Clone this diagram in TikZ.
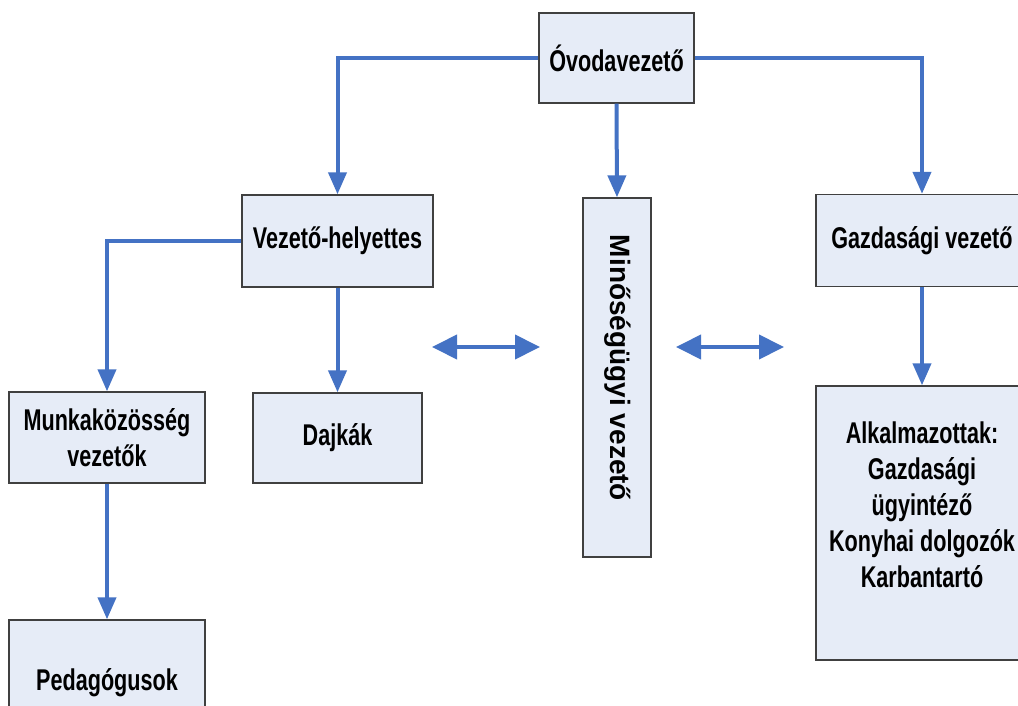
\documentclass[tikz,border=0pt]{standalone}
\usepackage{fontspec}
\newfontfamily\boxfont{Liberation Sans}[FakeStretch=0.72]
\newfontfamily\plainfont{Liberation Sans}
\usetikzlibrary{arrows.meta}
\definecolor{boxfill}{HTML}{E6ECF7}
\definecolor{boxline}{HTML}{404040}
\definecolor{conn}{HTML}{4472C4}
\tikzset{
  orgbox/.style={draw=boxline, line width=1.4pt, fill=boxfill, inner sep=0pt,
    font=\boxfont\bfseries\fontsize{30}{36}\selectfont, align=center},
  lbl/.style={inner sep=0pt, font=\boxfont\bfseries\fontsize{30}{36}\selectfont, align=center},
  vlbl/.style={inner sep=0pt, rotate=-90, font=\plainfont\bfseries\fontsize{28}{34}\selectfont},
  link/.style={draw=conn, line width=4pt, -{Triangle[width=18pt,length=22pt]}},
  both/.style={draw=conn, line width=4pt, {Triangle[width=24pt,length=25pt]}-{Triangle[width=24pt,length=25pt]}}
}
\begin{document}
\begin{tikzpicture}[x=1pt,y=-1pt]
\useasboundingbox (0,0) rectangle (1018,706);
\clip (0,0) rectangle (1018,706);
\fill[white] (0,0) rectangle (1018,706);
% boxes
\node[orgbox, minimum width=155pt, minimum height=90pt] (ovoda) at (616.5,58) {Óvodavezető};
\node[orgbox, minimum width=191pt, minimum height=92pt] (helyettes) at (337.5,241) {Vezető-helyettes};
\node[orgbox, minimum width=212pt, minimum height=92pt] (gazd) at (922,240.5) {Gazdasági vezető};
\node[orgbox, rotate=-90, minimum width=359pt, minimum height=68pt] (mino) at (617,377.5) {};
\node[vlbl] (minotext) at (618,368) {Minőségügyi vezető};
\node[orgbox, minimum width=196pt, minimum height=91pt] (munka) at (107,437.5) {Munkaközösség\\vezetők};
\node[orgbox, minimum width=169pt, minimum height=90pt] (dajka) at (337.5,438) {Dajkák};
\node[orgbox, minimum width=196pt, minimum height=126pt] (peda) at (107,683) {Pedagógusok};
\node[orgbox, minimum width=212pt, minimum height=274pt] (alk) at (922,523) {};
\node[lbl] (alktext) at (922,505) {Alkalmazottak:\\Gazdasági\\ügyintéző\\Konyhai dolgozók\\Karbantartó};
% connectors
\draw[link] (ovoda.west) -| (helyettes.north);
\draw[link] (ovoda.south) -- (mino.west);
\draw[link] (ovoda.east) -| (gazd.north);
\draw[link] (helyettes.west) -| (munka.north);
\draw[link] (helyettes.south) -- (dajka.north);
\draw[link] (munka.south) -- (peda.north);
\draw[link] (gazd.south) -- (alk.north);
% double arrows
\coordinate (la) at (432,347);
\coordinate (lb) at (540,347);
\coordinate (ra) at (676,347);
\coordinate (rb) at (784,347);
\draw[both] (la) -- (lb);
\draw[both] (ra) -- (rb);
\end{tikzpicture}
\end{document}
